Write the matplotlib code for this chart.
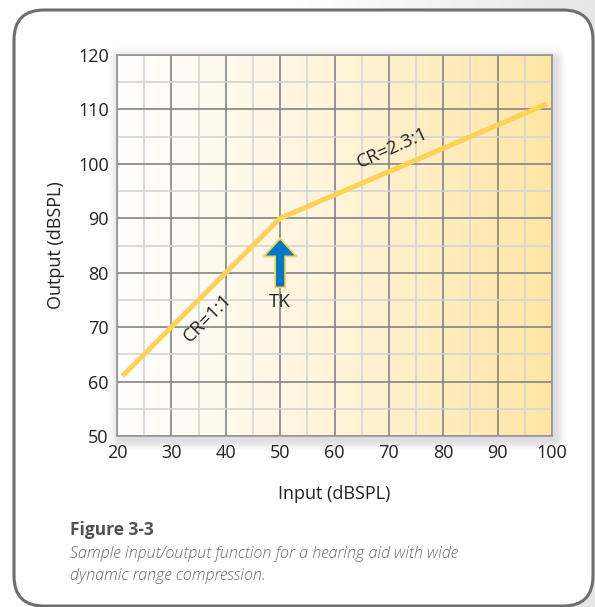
import numpy as np
import matplotlib
matplotlib.use("Agg")
import matplotlib.pyplot as plt
from matplotlib.patches import FancyBboxPatch, FancyArrow
from matplotlib.colors import LinearSegmentedColormap

plt.rcParams['font.family'] = ['Open Sans', 'DejaVu Sans']

# ---- data ----
input_db = [21, 50, 99]
output_db = [61, 90, 111]
x_ticks = [20, 30, 40, 50, 60, 70, 80, 90, 100]
y_ticks = [50, 60, 70, 80, 90, 100, 110, 120]
tk_input = 50
arrow_bottom, arrow_top = 77.3, 86.3
label_cr1 = "CR=1:1"
label_cr2 = "CR=2.3:1"
label_tk = "TK"
x_label = "Input (dBSPL)"
y_label = "Output (dBSPL)"
fig_title = "Figure 3-3"
fig_caption = "Sample input/output function for a hearing aid with wide\ndynamic range compression."

W, H = 595, 607
fig = plt.figure(figsize=(W / 100, H / 100), dpi=100)

# ---- background and frame ----
bg = fig.add_axes([0, 0, 1, 1], zorder=0)
bg.set_xlim(0, W)
bg.set_ylim(H, 0)
bg.axis('off')
grad = np.linspace(0, 1, 256)[None, :]
bg_cmap = LinearSegmentedColormap.from_list('bg', ['#ffffff', '#ffffff', '#e6e6e6'])
bg.imshow(grad, cmap=bg_cmap, extent=[0, W, H, 0], aspect='auto', zorder=0)
frame = FancyBboxPatch((14, 10), 579, 596, boxstyle="round,pad=0,rounding_size=30",
                       facecolor='white', edgecolor='#6e6e6e', linewidth=2.2, zorder=1)
bg.add_patch(frame)

# soft shadow of plot area
px0, px1, py0, py1 = 117, 552, 55, 436
yy, xx = np.mgrid[0:H, 0:W] + 0.5
sx0, sx1, sy0, sy1 = px0 + 3, px1 + 3, py0 + 4, py1 + 4
dx = np.maximum(np.maximum(sx0 - xx, xx - sx1), 0)
dy = np.maximum(np.maximum(sy0 - yy, yy - sy1), 0)
d = np.hypot(dx, dy)
alpha = 0.22 * np.exp(-(d / 7.0) ** 2)
alpha[(xx >= sx0) & (xx <= sx1) & (yy >= sy0) & (yy <= sy1)] = 0.22
shadow = np.zeros((H, W, 4))
shadow[..., 0] = 0.42
shadow[..., 1] = 0.43
shadow[..., 2] = 0.50
shadow[..., 3] = alpha
bg.imshow(shadow, extent=[0, W, H, 0], aspect='auto', zorder=2, interpolation='bilinear')

# ---- main axes ----
ax = fig.add_axes([px0 / W, 1 - py1 / H, (px1 - px0) / W, (py1 - py0) / H], zorder=2)
ax.set_facecolor('white')
ax.set_xlim(20, 100)
ax.set_ylim(50, 120)
g_cmap = LinearSegmentedColormap.from_list('g', ['#ffffff', '#fff4da', '#ffe6a4'])
ax.imshow(grad, cmap=g_cmap, extent=[20, 100, 50, 120], aspect='auto', zorder=0)

ax.set_xticks(x_ticks)
ax.set_yticks(y_ticks)
ax.set_xticks(np.arange(25, 100, 10), minor=True)
ax.set_yticks(np.arange(55, 120, 10), minor=True)
ax.grid(which='minor', color='#d4d4d4', linewidth=1.2, zorder=1)
ax.grid(which='major', color='#848484', linewidth=1.2, zorder=1)
ax.set_axisbelow(True)
ax.tick_params(which='both', length=0, labelsize=13, labelcolor='#222222', pad=6)
for s in ax.spines.values():
    s.set_color('#9a9a9a')
    s.set_linewidth(1.3)

ax.plot(input_db, output_db, color='#ffd155', linewidth=3.6, solid_capstyle='butt', zorder=3)

ax.set_xlabel(x_label, fontsize=13, color='#222222', labelpad=16)
ax.set_ylabel(y_label, fontsize=13, color='#222222', labelpad=9)

arrow = FancyArrow(tk_input, arrow_bottom, 0, arrow_top - arrow_bottom, width=1.85,
                   head_width=6.0, head_length=3.3, length_includes_head=True,
                   facecolor='#0277c2', edgecolor='#ffd155', linewidth=1.3, zorder=4)
ax.add_patch(arrow)
ax.text(tk_input, 74.6, label_tk, fontsize=13.5, color='#222222', ha='center', va='center', zorder=4)
ax.text(36.7, 71.7, label_cr1, fontsize=13.5, color='#222222', ha='center', va='center',
        rotation=45, rotation_mode='anchor', zorder=4)
ax.text(70.6, 102.9, label_cr2, fontsize=13.5, color='#222222', ha='center', va='center',
        rotation=24, rotation_mode='anchor', zorder=4)

# ---- caption ----
fig.text(70 / W, 1 - 530 / H, fig_title, fontsize=12.5, fontweight='bold', color='#555050',
         ha='left', va='center')
fig.text(70 / W, 1 - 565 / H, fig_caption, fontsize=11.6, fontstyle='italic', color='#6a6a6a',
         ha='left', va='center', linespacing=1.45, fontweight='light')

fig.savefig('out.png', dpi=100)
